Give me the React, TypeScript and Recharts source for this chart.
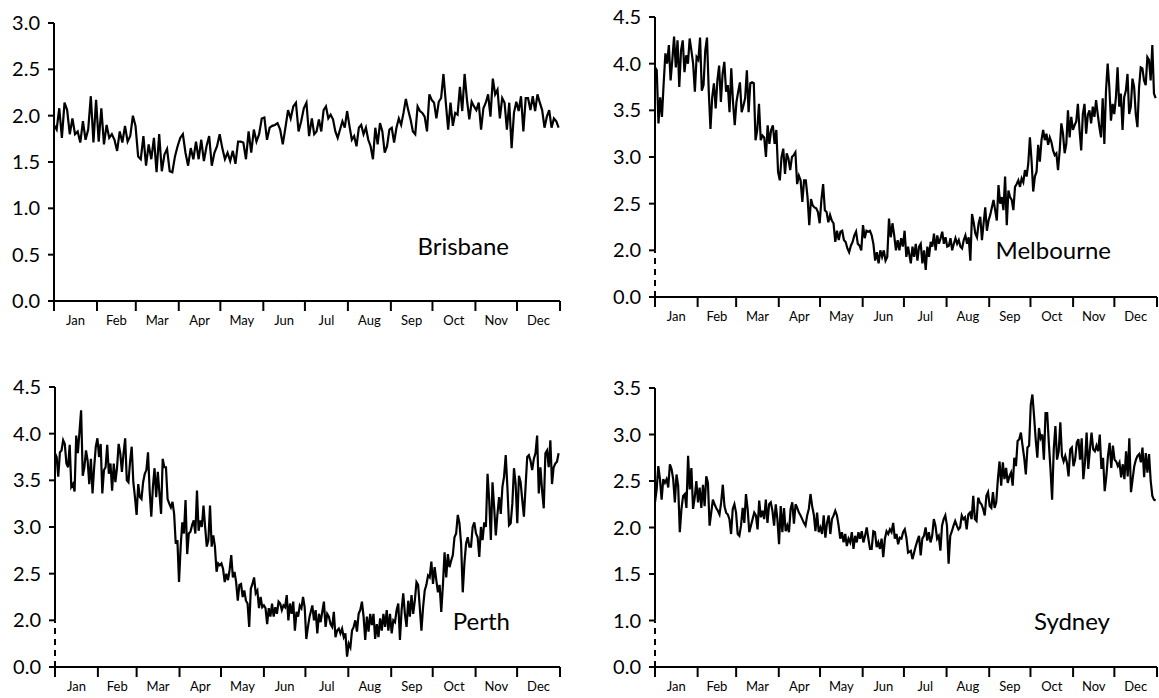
import { Line, LineChart, ReferenceLine, XAxis, YAxis } from "recharts";

// Four city panels, daily values over a year (Jan–Jun and Jul–Dec halves).

const FONT = "Lato, 'DejaVu Sans', sans-serif";

const MONTHS = ["Jan", "Feb", "Mar", "Apr", "May", "Jun", "Jul", "Aug", "Sep", "Oct", "Nov", "Dec"];
const MONTH_STARTS = [0, 31, 59, 90, 120, 151, 181, 212, 243, 273, 304, 334, 365];
const MONTH_MIDS = MONTHS.map((_, i) => (MONTH_STARTS[i] + MONTH_STARTS[i + 1]) / 2);

const BRISBANE_H1 = [1.90, 1.85, 2.08, 1.76, 2.14, 2.06, 1.80, 1.97, 1.80, 1.83, 1.71, 1.94, 1.74, 1.85, 2.21, 1.71, 2.17, 1.72, 2.08, 1.69, 1.90, 1.76, 1.80, 1.74, 1.62, 1.83, 1.71, 1.89, 1.72, 1.78, 2.00, 1.89, 1.56, 1.53, 1.78, 1.46, 1.69, 1.53, 1.76, 1.39, 1.80, 1.40, 1.58, 1.64, 1.40, 1.39, 1.56, 1.67, 1.76, 1.80, 1.60, 1.46, 1.65, 1.53, 1.72, 1.53, 1.74, 1.51, 1.67, 1.78, 1.46, 1.60, 1.67, 1.80, 1.65, 1.53, 1.60, 1.51, 1.62, 1.48, 1.72, 1.72, 1.71, 1.53, 1.83, 1.60, 1.85, 1.72, 1.80, 1.97, 1.98, 1.74, 1.87, 1.89, 1.90, 1.92, 1.85, 1.69, 1.87, 2.06, 1.97, 2.10, 2.14, 1.83, 1.94, 2.08, 2.14, 1.78];
const BRISBANE_H2 = [1.97, 1.80, 1.83, 1.96, 1.83, 2.06, 2.10, 1.97, 2.01, 1.96, 1.83, 1.76, 1.85, 1.94, 1.87, 2.05, 1.89, 1.74, 1.78, 1.67, 1.87, 1.90, 1.80, 1.87, 1.74, 1.67, 1.53, 1.87, 1.69, 1.92, 1.83, 1.60, 1.67, 1.85, 1.87, 1.71, 1.87, 1.97, 1.90, 2.03, 2.18, 2.06, 1.96, 1.83, 1.80, 2.10, 2.05, 2.03, 1.99, 1.83, 2.23, 2.17, 2.14, 1.97, 2.15, 2.19, 2.45, 2.14, 1.85, 2.14, 1.89, 2.03, 2.01, 2.31, 2.05, 2.45, 2.17, 1.96, 2.15, 2.10, 2.06, 2.14, 1.85, 2.08, 2.14, 2.23, 1.99, 2.40, 2.23, 2.28, 1.97, 2.19, 2.14, 1.85, 2.14, 1.65, 2.03, 2.15, 2.05, 2.21, 1.83, 2.19, 2.19, 2.06, 2.21, 2.05, 2.23, 2.14, 2.06, 1.87, 1.99, 2.06, 1.87, 1.97, 1.94, 1.87];

const MELBOURNE_H1 = [3.96, 3.93, 3.36, 3.64, 3.43, 3.79, 4.11, 4.00, 4.20, 3.82, 4.04, 4.29, 3.96, 4.25, 3.75, 4.14, 4.25, 3.91, 4.09, 4.00, 4.27, 4.14, 4.00, 3.70, 4.07, 4.04, 4.28, 3.71, 3.77, 4.14, 4.28, 3.71, 3.30, 3.64, 3.79, 3.52, 3.82, 3.98, 3.59, 3.89, 4.02, 3.70, 3.77, 3.48, 3.95, 3.59, 3.34, 3.59, 3.70, 3.80, 3.48, 3.55, 3.63, 3.93, 3.48, 3.79, 3.80, 3.79, 3.18, 3.29, 3.57, 3.18, 3.23, 3.21, 3.00, 3.34, 3.14, 3.29, 3.34, 3.14, 3.29, 2.84, 2.75, 3.00, 3.09, 2.82, 3.04, 2.98, 2.86, 3.00, 3.02, 3.05, 2.71, 2.80, 2.75, 2.52, 2.75, 2.75, 2.57, 2.27, 2.55, 2.48, 2.46, 2.45, 2.41, 2.29, 2.54, 2.71, 2.43, 2.41, 2.30, 2.38, 2.32, 2.29, 2.09, 2.21, 2.11, 2.20, 2.21, 2.11, 2.09, 2.02, 1.98, 2.05, 2.09, 2.16, 2.20, 2.07, 2.05, 2.00, 2.27, 2.13, 2.21, 2.20, 2.21, 2.16, 2.07, 1.89, 1.98, 1.86, 2.00, 1.93, 2.00, 1.89, 1.93, 2.34, 2.14, 2.29, 2.16, 2.00, 2.11, 2.00, 2.13, 2.04, 2.21, 1.93, 2.04];
const MELBOURNE_H2 = [1.86, 2.04, 1.93, 2.07, 1.89, 2.04, 2.07, 1.86, 2.00, 1.79, 2.04, 1.93, 2.09, 2.04, 2.18, 2.00, 2.16, 2.07, 2.13, 2.20, 2.07, 2.14, 2.04, 2.05, 2.13, 2.00, 2.07, 2.13, 2.07, 2.11, 2.04, 2.02, 2.11, 2.16, 2.07, 2.14, 1.89, 2.39, 2.30, 2.18, 2.14, 2.29, 2.36, 2.11, 2.29, 2.46, 2.21, 2.32, 2.38, 2.46, 2.54, 2.43, 2.32, 2.70, 2.50, 2.57, 2.43, 2.79, 2.27, 2.64, 2.57, 2.54, 2.43, 2.68, 2.71, 2.75, 2.68, 2.77, 2.73, 2.86, 2.79, 2.93, 3.21, 2.96, 2.63, 2.79, 2.84, 3.13, 2.95, 3.18, 3.29, 3.18, 3.25, 3.13, 3.21, 3.16, 3.07, 3.02, 3.04, 2.86, 3.07, 3.36, 3.25, 3.04, 3.14, 3.50, 3.21, 3.43, 3.29, 3.34, 3.38, 3.57, 3.29, 3.07, 3.46, 3.57, 3.25, 3.45, 3.50, 3.36, 3.54, 3.43, 3.61, 3.46, 3.32, 3.21, 3.63, 3.14, 3.71, 4.00, 3.75, 3.39, 3.57, 3.46, 3.64, 3.96, 3.54, 3.68, 3.29, 3.64, 3.71, 3.89, 3.46, 3.54, 3.84, 3.75, 3.46, 3.32, 3.75, 3.96, 3.95, 3.82, 3.77, 4.07, 4.04, 3.82, 4.20, 3.68, 3.63];

const PERTH_H1 = [3.79, 3.75, 3.54, 3.80, 3.82, 3.93, 3.89, 3.68, 3.64, 3.88, 3.43, 3.46, 3.38, 3.98, 3.79, 4.02, 4.25, 3.55, 3.64, 3.82, 3.71, 3.46, 3.73, 3.36, 3.64, 3.86, 3.95, 3.75, 3.89, 3.36, 3.61, 3.64, 3.88, 3.57, 3.68, 3.39, 3.68, 3.48, 3.63, 3.89, 3.79, 3.59, 3.79, 3.95, 3.50, 3.48, 3.70, 3.86, 3.48, 3.32, 3.13, 3.46, 3.32, 3.30, 3.48, 3.57, 3.61, 3.80, 3.39, 3.11, 3.43, 3.63, 3.32, 3.59, 3.36, 3.14, 3.73, 3.64, 3.64, 3.30, 3.25, 3.21, 3.27, 3.14, 2.82, 2.86, 2.41, 2.79, 3.05, 2.93, 3.29, 2.71, 2.93, 2.95, 3.02, 3.07, 2.93, 3.39, 2.96, 3.07, 3.00, 3.23, 3.00, 2.79, 2.86, 3.23, 2.79, 2.91, 2.79, 2.52, 2.61, 2.59, 2.61, 2.55, 2.41, 2.50, 2.43, 2.54, 2.70, 2.46, 2.52, 2.41, 2.21, 2.38, 2.39, 2.25, 2.32, 2.21, 2.18, 1.93, 2.34, 2.39, 2.46, 2.29, 2.32, 2.13, 2.25, 2.14, 2.16, 2.13, 1.96, 2.13, 2.04, 2.18, 2.04, 2.14, 2.07, 2.20, 2.18, 2.11, 2.16, 2.14, 2.27, 2.00, 2.18, 2.07, 2.20, 1.89, 2.09, 2.04, 2.16, 2.13, 2.25, 2.14, 1.80, 1.93, 2.04];
const PERTH_H2 = [2.16, 2.00, 2.11, 1.86, 2.07, 1.98, 2.09, 2.20, 1.93, 2.07, 2.04, 1.96, 1.93, 2.09, 1.82, 1.89, 1.91, 1.86, 1.91, 1.82, 1.86, 1.61, 1.75, 1.71, 1.89, 1.93, 2.00, 1.88, 2.07, 2.11, 2.20, 2.04, 1.79, 2.04, 1.88, 2.07, 1.95, 2.07, 1.80, 1.96, 1.82, 2.02, 1.89, 2.07, 1.93, 2.11, 1.89, 2.07, 1.86, 2.00, 1.98, 2.11, 2.18, 1.79, 2.11, 2.29, 2.07, 1.93, 2.21, 2.04, 2.27, 2.07, 2.21, 2.41, 2.38, 2.14, 1.89, 2.14, 2.32, 2.38, 2.48, 2.46, 2.63, 2.39, 2.57, 2.43, 2.30, 2.38, 2.09, 2.38, 2.73, 2.46, 2.71, 2.57, 2.64, 2.70, 2.89, 2.93, 3.13, 3.04, 2.82, 2.30, 2.61, 2.82, 2.89, 2.79, 2.79, 3.00, 3.05, 2.93, 2.89, 2.68, 3.00, 2.86, 3.05, 3.00, 3.57, 3.29, 2.86, 3.48, 3.21, 2.91, 3.14, 3.32, 3.14, 3.43, 3.54, 3.77, 3.43, 3.02, 3.04, 3.25, 3.63, 3.46, 3.04, 3.55, 3.48, 3.29, 3.11, 3.43, 3.75, 3.77, 3.71, 3.61, 3.73, 3.79, 3.98, 3.36, 3.64, 3.39, 3.20, 3.79, 3.82, 3.64, 3.93, 3.46, 3.64, 3.68, 3.70, 3.79];

const SYDNEY_H1 = [2.27, 2.41, 2.66, 2.52, 2.30, 2.52, 2.48, 2.52, 2.43, 2.68, 2.63, 2.52, 2.27, 2.57, 2.45, 1.95, 2.20, 2.34, 2.36, 2.21, 2.77, 2.41, 2.64, 2.20, 2.32, 2.50, 2.27, 2.43, 2.21, 2.46, 2.23, 2.55, 2.48, 2.02, 2.16, 2.30, 2.25, 2.21, 2.18, 2.14, 2.27, 2.46, 2.23, 2.16, 2.14, 2.09, 1.93, 2.20, 2.25, 2.16, 1.93, 1.91, 2.02, 2.21, 2.05, 2.36, 2.20, 1.95, 2.02, 2.09, 2.16, 2.13, 1.98, 2.29, 2.11, 2.18, 2.09, 2.30, 2.05, 2.25, 2.27, 2.18, 2.02, 2.25, 2.09, 1.82, 2.23, 1.95, 2.21, 1.96, 2.02, 1.95, 2.20, 2.27, 2.04, 2.25, 2.21, 2.16, 2.13, 2.09, 2.05, 2.02, 2.13, 2.20, 2.36, 2.23, 2.14, 1.96, 2.16, 1.95, 2.00, 1.93, 2.13, 1.89, 2.05, 2.13, 1.93, 2.09, 2.13, 2.18, 2.13, 2.02, 1.88, 1.95, 1.84, 1.93, 1.80, 1.88, 1.84, 1.95, 1.77, 1.91, 1.84, 1.95, 1.88, 1.96, 1.84, 1.91, 2.00, 1.88, 1.77, 1.77, 1.96, 1.95, 1.79, 1.84, 1.77, 1.88, 1.68, 1.88, 1.96, 1.93, 1.98, 1.95, 2.05, 1.88, 1.93, 1.82, 1.89, 1.88, 1.95, 1.98, 1.89, 1.73];
const SYDNEY_H2 = [1.75, 1.66, 1.73, 1.80, 1.86, 1.91, 1.70, 1.88, 1.91, 2.00, 1.86, 1.95, 1.84, 1.91, 2.09, 2.02, 1.88, 1.91, 1.75, 2.02, 2.09, 2.13, 2.02, 1.61, 1.91, 1.96, 2.02, 2.07, 2.02, 1.98, 2.00, 2.13, 2.09, 2.11, 1.98, 2.14, 2.16, 2.09, 2.34, 2.09, 2.07, 2.32, 2.27, 2.25, 2.20, 2.13, 2.34, 2.38, 2.23, 2.21, 2.38, 2.21, 2.27, 2.52, 2.71, 2.45, 2.70, 2.52, 2.64, 2.48, 2.55, 2.59, 2.45, 2.75, 2.66, 2.93, 2.95, 3.02, 2.88, 2.75, 2.57, 2.86, 2.88, 3.32, 3.43, 3.20, 2.95, 2.75, 3.07, 2.96, 3.00, 2.73, 3.23, 3.23, 2.91, 2.63, 2.30, 2.84, 3.09, 2.73, 2.82, 3.13, 2.77, 2.71, 2.77, 2.70, 2.55, 2.84, 2.86, 2.66, 2.73, 2.91, 2.95, 2.73, 2.96, 2.52, 2.70, 3.02, 2.63, 2.84, 3.02, 2.84, 2.82, 2.88, 2.82, 3.00, 2.63, 2.75, 2.39, 2.55, 2.77, 2.91, 2.64, 2.88, 2.73, 2.71, 2.66, 2.70, 2.54, 2.68, 2.52, 2.82, 2.55, 2.96, 2.38, 2.52, 2.66, 2.73, 2.77, 2.79, 2.70, 2.86, 2.54, 2.80, 2.59, 2.79, 2.50, 2.34, 2.30, 2.29];

// y ticks; the first entry of the broken axes is drawn as "0.0"
const BRISBANE_TICKS = [0, 0.5, 1, 1.5, 2, 2.5, 3];
const MELBOURNE_TICKS = [1.5, 2, 2.5, 3, 3.5, 4, 4.5];
const PERTH_TICKS = [1.5, 2, 2.5, 3, 3.5, 4, 4.5];
const SYDNEY_TICKS = [0.5, 1, 1.5, 2, 2.5, 3, 3.5];

function toSeries(first: number[], second: number[]) {
  const a = first.map((v, i) => ({ day: (i * 184) / (first.length - 1), v }));
  const b = second.map((v, i) => ({ day: 186 + (i * 178) / (second.length - 1), v }));
  return [...a, ...b];
}

const X_TICKS = [...MONTH_STARTS, ...MONTH_MIDS].sort((a, b) => a - b);

function MonthTick(props: any) {
  const { x, y, payload } = props;
  const v = payload.value;
  if (MONTH_STARTS.includes(v)) {
    return <line x1={x} x2={x} y1={y} y2={y + 10} stroke="#000" strokeWidth={2} />;
  }
  const m = MONTH_MIDS.indexOf(v);
  return (
    <text x={x} y={y + 24} textAnchor="middle" fontSize={13} fontFamily={FONT} fill="#000">
      {MONTHS[m]}
    </text>
  );
}

type Panel = {
  name: string;
  data: { day: number; v: number }[];
  ticks: number[];
  brk: number;
  left: number;
  top: number;
  height: number;
  marginTop: number;
  xHeight: number;
  yWidth: number;
  width: number;
  right: number;
  labelX: number;
  labelY: number;
};

const PANELS: Panel[] = [
  { name: "Brisbane", data: toSeries(BRISBANE_H1, BRISBANE_H2), ticks: BRISBANE_TICKS, brk: 0,
    left: 0, top: 0, width: 570, right: 10, height: 341, marginTop: 23, xHeight: 40, yWidth: 54, labelX: 509, labelY: 255 },
  { name: "Melbourne", data: toSeries(MELBOURNE_H1, MELBOURNE_H2), ticks: MELBOURNE_TICKS, brk: 2,
    left: 600, top: 0, width: 559, right: 2, height: 337, marginTop: 17, xHeight: 40, yWidth: 55, labelX: 1111, labelY: 259 },
  { name: "Perth", data: toSeries(PERTH_H1, PERTH_H2), ticks: PERTH_TICKS, brk: 2,
    left: 0, top: 350, width: 570, right: 10, height: 348, marginTop: 37, xHeight: 31, yWidth: 55, labelX: 510, labelY: 630 },
  { name: "Sydney", data: toSeries(SYDNEY_H1, SYDNEY_H2), ticks: SYDNEY_TICKS, brk: 1,
    left: 600, top: 350, width: 559, right: 2, height: 348, marginTop: 38, xHeight: 31, yWidth: 55, labelX: 1110, labelY: 630 },
];

function CityChart({ p }: { p: Panel }) {
  const lo = p.ticks[0];
  const hi = p.ticks[p.ticks.length - 1];
  return (
    <div style={{ position: "absolute", left: p.left, top: p.top }}>
      <LineChart width={p.width} height={p.height} data={p.data}
        margin={{ top: p.marginTop, right: p.right, bottom: 0, left: 0 }}>
        <XAxis dataKey="day" type="number" domain={[0, 365]} ticks={X_TICKS} interval={0}
          height={p.xHeight} tickSize={0} tickMargin={0} tickLine={false}
          axisLine={{ stroke: "#000", strokeWidth: 2 }} tick={(t: any) => <MonthTick {...t} />} />
        <YAxis type="number" domain={[lo, hi]} ticks={p.ticks} interval={0} width={p.yWidth}
          axisLine={false} tickSize={6} tickMargin={8}
          tickLine={{ stroke: "#000", strokeWidth: 2 }}
          tick={{ fill: "#000", fontSize: 20, fontFamily: FONT }}
          tickFormatter={(v: number) => (v === lo ? "0.0" : v.toFixed(1))} />
        {p.brk > lo && (
          <ReferenceLine segment={[{ x: 0, y: lo }, { x: 0, y: p.brk }]} ifOverflow="visible"
            stroke="#000" strokeWidth={2} strokeDasharray="6 5" />
        )}
        <ReferenceLine segment={[{ x: 0, y: p.brk }, { x: 0, y: hi }]} ifOverflow="visible"
          stroke="#000" strokeWidth={2} />
        <Line type="linear" dataKey="v" stroke="#000" strokeWidth={2.2} dot={false}
          isAnimationActive={false} />
      </LineChart>
    </div>
  );
}

export default function App() {
  return (
    <div style={{ position: "absolute", left: 0, top: 0, width: 1159, height: 698, background: "#fff" }}>
      {PANELS.map((p) => (
        <CityChart key={p.name} p={p} />
      ))}
      <svg width={1159} height={698} style={{ position: "absolute", left: 0, top: 0, pointerEvents: "none" }}>
        {PANELS.map((p) => (
          <text key={p.name} x={p.labelX} y={p.labelY} textAnchor="end" fontSize={24} fontFamily={FONT} fill="#000">
            {p.name}
          </text>
        ))}
      </svg>
    </div>
  );
}
